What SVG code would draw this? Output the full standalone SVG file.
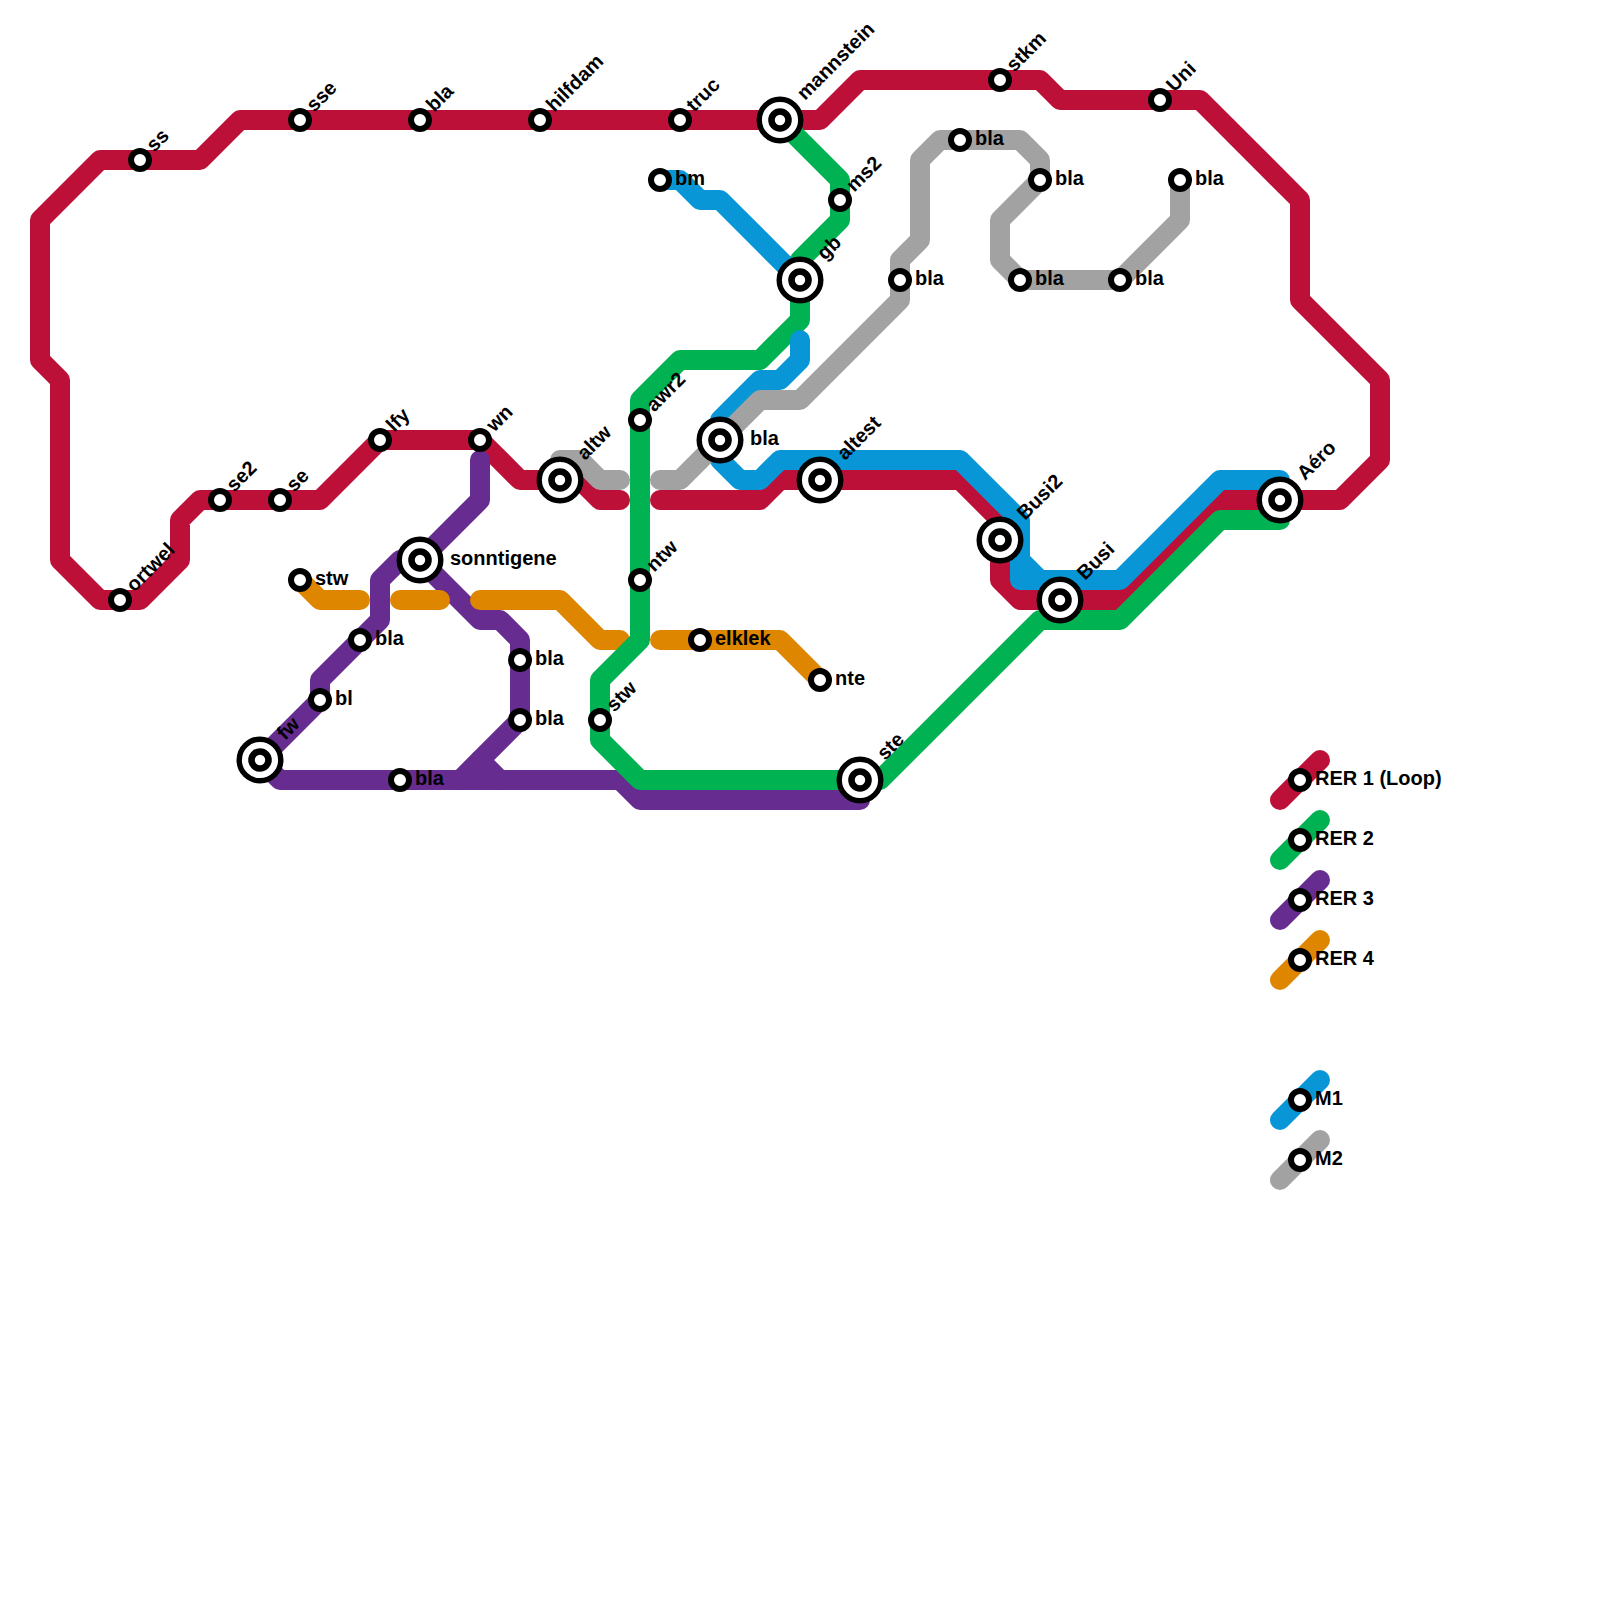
<svg xmlns="http://www.w3.org/2000/svg" width="1600" height="1600" viewBox="0 0 1600 1600">
<style>
.l{fill:none;stroke-width:20;stroke-linecap:round;stroke-linejoin:round}
.r{stroke:#bd1038}.g{stroke:#00b251}.p{stroke:#662c90}.o{stroke:#df8600}.b{stroke:#0896d7}.y{stroke:#a2a2a2}
.s{fill:#fff;stroke:#000;stroke-width:6}
.c{fill:#fff;stroke:#000;stroke-width:6.6}
.a{fill:#fff;stroke:#000;stroke-width:5.4}
text{font-family:"Liberation Sans",Arial,sans-serif;font-weight:700;font-size:20px;fill:#000}
</style>
<defs>
<g id="sm"><circle class="s" r="9"/></g>
<g id="lg"><circle class="a" r="20.8"/><circle class="c" r="8.5"/></g>
</defs>
<rect width="1600" height="1600" fill="#fff"/>
<g id="connectors">
<path class="l r" d="M620 500H600L580 480H520L480 440H380L320 500H200L180 520V560L140 600H100L60 560V380L40 360V220L100 160H200L240 120H820L860 80H1040L1060 100H1200L1300 200V300L1380 380V460L1340 500H1220L1120 600H1020L1000 580V520L960 480H780L760 500H660"/>
<path class="l p" d="M480 460V500L420 560H400L380 580V620L320 680V700L260 760L280 780H620L640 800H860"/>
<path class="l p" d="M420 560L480 620H500L520 640V720L460 780"/>
<path class="l p" d="M480 760L500 780"/>
<path class="l o" d="M300 580L320 600H360"/>
<path class="l o" d="M400 600H440"/>
<path class="l o" d="M480 600H560L600 640H620"/>
<path class="l o" d="M660 640H780L820 680"/>
<path class="l g" d="M780 120L840 180V220L800 260V320L760 360H680L640 400V640L600 680V740L640 780H880L1040 620H1120L1220 520H1280"/>
<path class="l b" d="M660 180H680L700 200H720L800 280"/>
<path class="l b" d="M800 340V360L780 380H760L720 420V460L740 480H760L780 460H960L1020 520V560L1040 580H1120L1220 480H1280"/>
<path class="l b" d="M1020 560V580H1040"/>
<path class="l y" d="M560 480V460H580L600 480H620"/>
<path class="l y" d="M660 480H680L760 400H800L900 300V260L920 240V160L940 140H1020L1040 160V180L1000 220V260L1020 280H1120L1180 220V180"/>
<path class="l r" d="M1280 800L1320 760"/>
<path class="l g" d="M1280 860L1320 820"/>
<path class="l p" d="M1280 920L1320 880"/>
<path class="l o" d="M1280 980L1320 940"/>
<path class="l b" d="M1280 1120L1320 1080"/>
<path class="l y" d="M1280 1180L1320 1140"/>
</g>
<g id="n-ortwel"><use href="#sm" x="120" y="600"/><text transform="translate(134.3 592.7) rotate(-45)">ortwel</text></g>
<g id="n-ss"><use href="#sm" x="140" y="160"/><text transform="translate(154.3 152.7) rotate(-45)">ss</text></g>
<g id="n-sse"><use href="#sm" x="300" y="120"/><text transform="translate(314.3 112.7) rotate(-45)">sse</text></g>
<g id="n-bla1"><use href="#sm" x="420" y="120"/><text transform="translate(434.3 112.7) rotate(-45)">bla</text></g>
<g id="n-hilfdam"><use href="#sm" x="540" y="120"/><text transform="translate(554.3 112.7) rotate(-45)">hilfdam</text></g>
<g id="n-truc"><use href="#sm" x="680" y="120"/><text transform="translate(694.3 112.7) rotate(-45)">truc</text></g>
<g id="n-mannstein"><use href="#lg" x="780" y="120"/><text transform="translate(805 101) rotate(-45)">mannstein</text></g>
<g id="n-stkm"><use href="#sm" x="1000" y="80"/><text transform="translate(1014.3 72.7) rotate(-45)">stkm</text></g>
<g id="n-uni"><use href="#sm" x="1160" y="100"/><text transform="translate(1174.3 92.7) rotate(-45)">Uni</text></g>
<g id="n-ms2"><use href="#sm" x="840" y="200"/><text transform="translate(854.3 192.7) rotate(-45)">ms2</text></g>
<g id="n-gb"><use href="#lg" x="800" y="280"/><text transform="translate(825 261) rotate(-45)">gb</text></g>
<g id="n-bla2"><use href="#sm" x="900" y="280"/><text x="915" y="285">bla</text></g>
<g id="n-bla3"><use href="#sm" x="960" y="140"/><text x="975" y="145">bla</text></g>
<g id="n-bla4"><use href="#sm" x="1040" y="180"/><text x="1055" y="185">bla</text></g>
<g id="n-bla5"><use href="#sm" x="1180" y="180"/><text x="1195" y="185">bla</text></g>
<g id="n-bla6"><use href="#sm" x="1020" y="280"/><text x="1035" y="285">bla</text></g>
<g id="n-bla7"><use href="#sm" x="1120" y="280"/><text x="1135" y="285">bla</text></g>
<g id="n-bm"><use href="#sm" x="660" y="180"/><text x="675" y="185">bm</text></g>
<g id="n-awr2"><use href="#sm" x="640" y="420"/><text transform="translate(654.3 412.7) rotate(-45)">awr2</text></g>
<g id="n-wn"><use href="#sm" x="480" y="440"/><text transform="translate(494.3 432.7) rotate(-45)">wn</text></g>
<g id="n-lfy"><use href="#sm" x="380" y="440"/><text transform="translate(394.3 432.7) rotate(-45)">lfy</text></g>
<g id="n-se2"><use href="#sm" x="220" y="500"/><text transform="translate(234.3 492.7) rotate(-45)">se2</text></g>
<g id="n-se"><use href="#sm" x="280" y="500"/><text transform="translate(294.3 492.7) rotate(-45)">se</text></g>
<g id="n-altw"><use href="#lg" x="560" y="480"/><text transform="translate(585 461) rotate(-45)">altw</text></g>
<g id="n-bla8"><use href="#lg" x="720" y="440"/><text x="750" y="445">bla</text></g>
<g id="n-altest"><use href="#lg" x="820" y="480"/><text transform="translate(845 461) rotate(-45)">altest</text></g>
<g id="n-busi2"><use href="#lg" x="1000" y="540"/><text transform="translate(1025 521) rotate(-45)">Busi2</text></g>
<g id="n-busi"><use href="#lg" x="1060" y="600"/><text transform="translate(1085 581) rotate(-45)">Busi</text></g>
<g id="n-aero"><use href="#lg" x="1280" y="500"/><text transform="translate(1305 481) rotate(-45)">Aéro</text></g>
<g id="n-sonntigene"><use href="#lg" x="420" y="560"/><text x="450" y="565">sonntigene</text></g>
<g id="n-stw1"><use href="#sm" x="300" y="580"/><text x="315" y="585">stw</text></g>
<g id="n-bla9"><use href="#sm" x="360" y="640"/><text x="375" y="645">bla</text></g>
<g id="n-bl"><use href="#sm" x="320" y="700"/><text x="335" y="705">bl</text></g>
<g id="n-fw"><use href="#lg" x="260" y="760"/><text transform="translate(285 741) rotate(-45)">fw</text></g>
<g id="n-bla10"><use href="#sm" x="400" y="780"/><text x="415" y="785">bla</text></g>
<g id="n-bla11"><use href="#sm" x="520" y="660"/><text x="535" y="665">bla</text></g>
<g id="n-bla12"><use href="#sm" x="520" y="720"/><text x="535" y="725">bla</text></g>
<g id="n-stw2"><use href="#sm" x="600" y="720"/><text transform="translate(614.3 712.7) rotate(-45)">stw</text></g>
<g id="n-ntw"><use href="#sm" x="640" y="580"/><text transform="translate(654.3 572.7) rotate(-45)">ntw</text></g>
<g id="n-elklek"><use href="#sm" x="700" y="640"/><text x="715" y="645">elklek</text></g>
<g id="n-nte"><use href="#sm" x="820" y="680"/><text x="835" y="685">nte</text></g>
<g id="n-ste"><use href="#lg" x="860" y="780"/><text transform="translate(885 761) rotate(-45)">ste</text></g>
<g id="legend-rer1"><use href="#sm" x="1300" y="780"/><text x="1315" y="785">RER 1 (Loop)</text></g>
<g id="legend-rer2"><use href="#sm" x="1300" y="840"/><text x="1315" y="845">RER 2</text></g>
<g id="legend-rer3"><use href="#sm" x="1300" y="900"/><text x="1315" y="905">RER 3</text></g>
<g id="legend-rer4"><use href="#sm" x="1300" y="960"/><text x="1315" y="965">RER 4</text></g>
<g id="legend-m1"><use href="#sm" x="1300" y="1100"/><text x="1315" y="1105">M1</text></g>
<g id="legend-m2"><use href="#sm" x="1300" y="1160"/><text x="1315" y="1165">M2</text></g>
</svg>
